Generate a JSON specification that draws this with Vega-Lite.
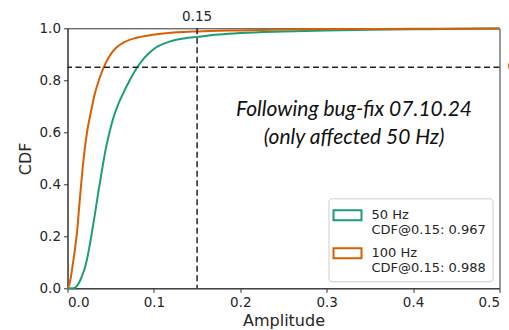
{
  "$schema": "https://vega.github.io/schema/vega-lite/v6.json",
  "width": 432,
  "height": 260,
  "autosize": {"type": "none"},
  "padding": {"left": 67.5, "top": 28.3, "right": 9.5, "bottom": 41.7},
  "background": "white",
  "config": {
    "view": {"stroke": "#333333", "strokeWidth": 1},
    "font": "DejaVu Sans",
    "axis": {
      "labelFont": "DejaVu Sans", "labelFontSize": 13.5, "labelColor": "#262626",
      "titleFont": "DejaVu Sans", "titleFontSize": 16, "titleFontWeight": "normal", "titleColor": "#262626",
      "domainColor": "#333333", "tickColor": "#333333", "grid": false, "tickSize": 4, "labelPadding": 3
    }
  },
  "layer": [
    {
      "data": {"values": [
        {"series": "50 Hz", "amplitude": 0, "cdf": 0},
        {"series": "50 Hz", "amplitude": 0.006, "cdf": 0},
        {"series": "50 Hz", "amplitude": 0.009, "cdf": 0.003},
        {"series": "50 Hz", "amplitude": 0.012, "cdf": 0.014},
        {"series": "50 Hz", "amplitude": 0.015, "cdf": 0.033},
        {"series": "50 Hz", "amplitude": 0.018, "cdf": 0.058},
        {"series": "50 Hz", "amplitude": 0.021, "cdf": 0.09},
        {"series": "50 Hz", "amplitude": 0.024, "cdf": 0.135},
        {"series": "50 Hz", "amplitude": 0.027, "cdf": 0.19},
        {"series": "50 Hz", "amplitude": 0.031, "cdf": 0.27},
        {"series": "50 Hz", "amplitude": 0.0357, "cdf": 0.37},
        {"series": "50 Hz", "amplitude": 0.0407, "cdf": 0.47},
        {"series": "50 Hz", "amplitude": 0.0445, "cdf": 0.54},
        {"series": "50 Hz", "amplitude": 0.0484, "cdf": 0.597},
        {"series": "50 Hz", "amplitude": 0.053, "cdf": 0.655},
        {"series": "50 Hz", "amplitude": 0.058, "cdf": 0.702},
        {"series": "50 Hz", "amplitude": 0.064, "cdf": 0.747},
        {"series": "50 Hz", "amplitude": 0.0716, "cdf": 0.797},
        {"series": "50 Hz", "amplitude": 0.0804, "cdf": 0.848},
        {"series": "50 Hz", "amplitude": 0.0889, "cdf": 0.886},
        {"series": "50 Hz", "amplitude": 0.0955, "cdf": 0.908},
        {"series": "50 Hz", "amplitude": 0.1024, "cdf": 0.926},
        {"series": "50 Hz", "amplitude": 0.114, "cdf": 0.944},
        {"series": "50 Hz", "amplitude": 0.1225, "cdf": 0.953},
        {"series": "50 Hz", "amplitude": 0.135, "cdf": 0.961},
        {"series": "50 Hz", "amplitude": 0.15, "cdf": 0.967},
        {"series": "50 Hz", "amplitude": 0.175, "cdf": 0.976},
        {"series": "50 Hz", "amplitude": 0.2, "cdf": 0.982},
        {"series": "50 Hz", "amplitude": 0.25, "cdf": 0.988},
        {"series": "50 Hz", "amplitude": 0.3, "cdf": 0.992},
        {"series": "50 Hz", "amplitude": 0.35, "cdf": 0.994},
        {"series": "50 Hz", "amplitude": 0.4, "cdf": 0.996},
        {"series": "50 Hz", "amplitude": 0.45, "cdf": 0.998},
        {"series": "50 Hz", "amplitude": 0.5, "cdf": 0.999},
        {"series": "100 Hz", "amplitude": 0, "cdf": 0},
        {"series": "100 Hz", "amplitude": 0.002, "cdf": 0.013},
        {"series": "100 Hz", "amplitude": 0.004, "cdf": 0.045},
        {"series": "100 Hz", "amplitude": 0.006, "cdf": 0.09},
        {"series": "100 Hz", "amplitude": 0.008, "cdf": 0.135},
        {"series": "100 Hz", "amplitude": 0.011, "cdf": 0.215},
        {"series": "100 Hz", "amplitude": 0.0137, "cdf": 0.32},
        {"series": "100 Hz", "amplitude": 0.0155, "cdf": 0.39},
        {"series": "100 Hz", "amplitude": 0.0176, "cdf": 0.465},
        {"series": "100 Hz", "amplitude": 0.0205, "cdf": 0.55},
        {"series": "100 Hz", "amplitude": 0.0226, "cdf": 0.6},
        {"series": "100 Hz", "amplitude": 0.0272, "cdf": 0.68},
        {"series": "100 Hz", "amplitude": 0.031, "cdf": 0.74},
        {"series": "100 Hz", "amplitude": 0.0368, "cdf": 0.805},
        {"series": "100 Hz", "amplitude": 0.0419, "cdf": 0.85},
        {"series": "100 Hz", "amplitude": 0.0477, "cdf": 0.888},
        {"series": "100 Hz", "amplitude": 0.056, "cdf": 0.924},
        {"series": "100 Hz", "amplitude": 0.0658, "cdf": 0.947},
        {"series": "100 Hz", "amplitude": 0.079, "cdf": 0.963},
        {"series": "100 Hz", "amplitude": 0.0986, "cdf": 0.975},
        {"series": "100 Hz", "amplitude": 0.114, "cdf": 0.981},
        {"series": "100 Hz", "amplitude": 0.15, "cdf": 0.988},
        {"series": "100 Hz", "amplitude": 0.2, "cdf": 0.992},
        {"series": "100 Hz", "amplitude": 0.25, "cdf": 0.995},
        {"series": "100 Hz", "amplitude": 0.3, "cdf": 0.997},
        {"series": "100 Hz", "amplitude": 0.4, "cdf": 0.998},
        {"series": "100 Hz", "amplitude": 0.5, "cdf": 0.999}
      ]},
      "mark": {"type": "line", "strokeWidth": 2, "interpolate": "monotone"},
      "encoding": {
        "x": {"field": "amplitude", "type": "quantitative",
              "scale": {"domain": [0, 0.5], "nice": false},
              "axis": {"title": "Amplitude", "values": [0, 0.1, 0.2, 0.3, 0.4, 0.5], "format": ".1f", "titlePadding": 4}},
        "y": {"field": "cdf", "type": "quantitative",
              "scale": {"domain": [0, 1], "nice": false},
              "axis": {"title": "CDF", "values": [0, 0.2, 0.4, 0.6, 0.8, 1.0], "format": ".1f", "titlePadding": 6}},
        "color": {"field": "series", "type": "nominal",
                  "scale": {"domain": ["50 Hz", "100 Hz"], "range": ["#1b9e77", "#d95f02"]},
                  "legend": {
                    "title": null, "orient": "bottom-right", "offset": 7, "padding": 6,
                    "strokeColor": "#cccccc", "fillColor": "white", "cornerRadius": 3,
                    "labelFont": "DejaVu Sans", "labelFontSize": 13, "labelColor": "#262626",
                    "symbolType": "M-1.2,-0.5H1.6V0.5H-1.2Z", "symbolSize": 400,
                    "symbolStrokeWidth": 2, "symbolFillColor": "transparent",
                    "labelOffset": 15, "rowPadding": 5, "labelBaseline": "middle",
                    "labelExpr": "datum.label == '50 Hz' ? ['50 Hz', 'CDF@0.15: 0.967'] : ['100 Hz', 'CDF@0.15: 0.988']",
                    "encoding": {"labels": {"update": {"lineHeight": {"value": 14.5}}}}
                  }}
      }
    },
    {
      "data": {"values": [{"x": 0.15}]},
      "mark": {"type": "rule", "strokeDash": [6, 3.5], "strokeWidth": 1.5, "color": "#222222"},
      "encoding": {"x": {"field": "x", "type": "quantitative"}}
    },
    {
      "data": {"values": [{"y": 0.85}]},
      "mark": {"type": "rule", "strokeDash": [6, 3.5], "strokeWidth": 1.5, "color": "#222222"},
      "encoding": {"y": {"field": "y", "type": "quantitative"}}
    },
    {
      "data": {"values": [{"x": 0.15, "y": 1.0, "label": "0.15"}]},
      "mark": {"type": "text", "font": "DejaVu Sans", "fontSize": 13.5, "color": "#262626", "align": "center", "baseline": "middle", "dy": -11},
      "encoding": {"x": {"field": "x", "type": "quantitative"}, "y": {"field": "y", "type": "quantitative"}, "text": {"field": "label"}}
    },
    {
      "data": {"values": [{"x": 0.5, "y": 0.85, "label": "0.85"}]},
      "mark": {"type": "text", "font": "DejaVu Sans", "fontSize": 13.5, "color": "#262626", "align": "left", "baseline": "middle", "dx": 8},
      "encoding": {"x": {"field": "x", "type": "quantitative"}, "y": {"field": "y", "type": "quantitative"}, "text": {"field": "label"}}
    },
    {
      "data": {"values": [
        {"x": 0.3316, "y": 0.686, "label": "Following bug-fix 07.10.24"},
        {"x": 0.3316, "y": 0.578, "label": "(only affected 50 Hz)"}
      ]},
      "mark": {"type": "text", "font": "Lato", "fontStyle": "italic", "fontSize": 21, "color": "#111111", "align": "center", "baseline": "middle"},
      "encoding": {"x": {"field": "x", "type": "quantitative"}, "y": {"field": "y", "type": "quantitative"}, "text": {"field": "label"}}
    }
  ]
}
